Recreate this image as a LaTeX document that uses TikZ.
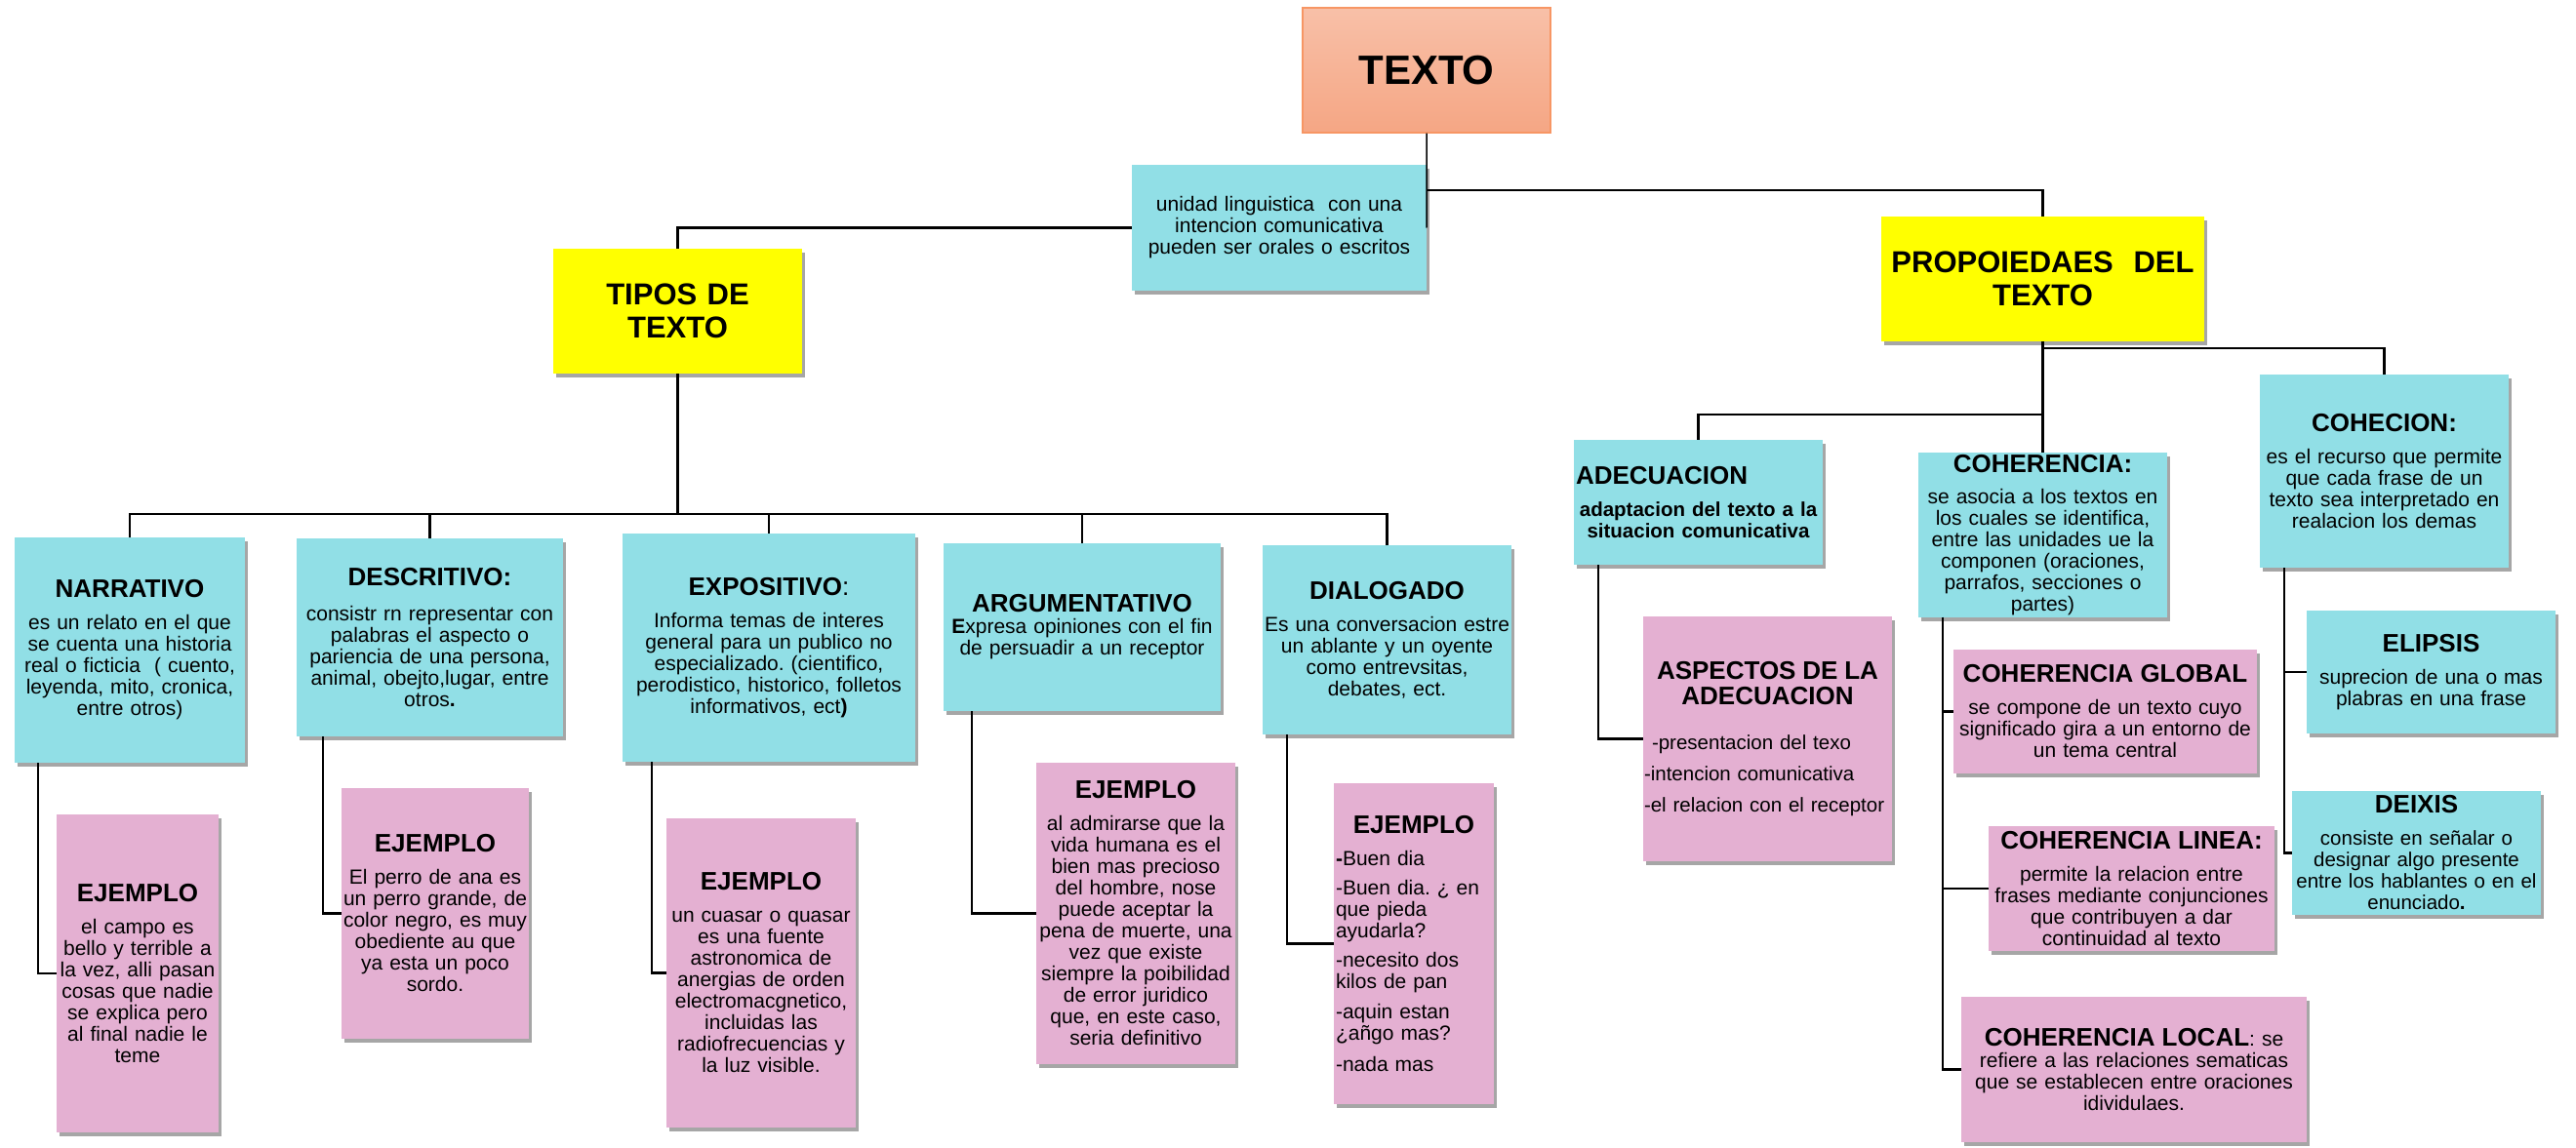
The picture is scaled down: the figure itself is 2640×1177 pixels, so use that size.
\documentclass[tikz,border=0pt]{standalone}
\usepackage{fontspec}
\setmainfont{Liberation Sans}
\usetikzlibrary{shadows}
\definecolor{cy}{RGB}{145,223,230}
\definecolor{pk}{RGB}{228,176,210}
\definecolor{yl}{RGB}{255,255,0}
\definecolor{ortop}{RGB}{248,192,168}
\definecolor{orbot}{RGB}{245,166,132}
\definecolor{orline}{RGB}{247,150,100}
\frenchspacing
\newcommand\hd[2][11pt]{{\fontsize{26}{28}\selectfont\bfseries #2\par}\vspace{#1}}
\begin{document}
\begin{tikzpicture}[x=1pt,y=-1pt,
  box/.style={inner xsep=2pt, inner ysep=2pt, align=center, font=\fontsize{21}{22}\selectfont},
  shd/.style={drop shadow={shadow xshift=3pt, shadow yshift=-4pt, fill=black, opacity=0.35}},
  cbox/.style={box, shd, fill=cy},
  pbox/.style={box, shd, fill=pk},
  ybox/.style={box, shd, fill=yl, font=\fontsize{31}{34}\selectfont\bfseries},
  lk/.style={draw=black, line width=2.2pt},
  lkthin/.style={draw=black, line width=1.5pt}]
\fill[white] (0,0) rectangle (2640,1177);
\useasboundingbox (0,0) rectangle (2640,1177);

% top level
\node[box, top color=ortop, bottom color=orbot, draw=orline, line width=1.5pt,
  minimum width=254pt, minimum height=128pt, text width=248pt,
  font=\fontsize{42}{46}\selectfont\bfseries] (texto) at (1462,72) {TEXTO};
\node[cbox, minimum width=302pt, minimum height=129pt, text width=296pt] (unidad) at (1311,233.5)
  {unidad linguistica\ \ con una\\intencion comunicativa\\pueden ser orales o escritos};
\node[ybox, minimum width=255pt, minimum height=128pt, text width=249pt] (tipos) at (694.5,319)
  {TIPOS DE\\TEXTO};
\node[ybox, minimum width=331pt, minimum height=128pt, text width=325pt] (prop) at (2093.5,286)
  {PROPOIEDAES\ \ DEL\\TEXTO};

% tipos de texto
\node[cbox, minimum width=236pt, minimum height=231pt, text width=230pt] (narr) at (133,666.5)
  {\hd{NARRATIVO}es un relato en el que\\se cuenta una historia\\real o ficticia\ \ ( cuento,\\leyenda, mito, cronica,\\entre otros)};
\node[cbox, minimum width=273pt, minimum height=203pt, text width=267pt] (desc) at (440.5,653.5)
  {\hd[14pt]{DESCRITIVO:}consistr rn representar con\\palabras el aspecto o\\pariencia de una persona,\\animal, obejto,lugar, entre\\otros\textbf{.}};
\node[cbox, minimum width=300pt, minimum height=234pt, text width=294pt] (expo) at (788,664)
  {\hd{EXPOSITIVO\textmd{:}}Informa temas de interes\\general para un publico no\\especializado. (cientifico,\\perodistico, historico, folletos\\informativos, ect\textbf{)}};
\node[cbox, minimum width=284pt, minimum height=172pt, text width=278pt] (arg) at (1109,643)
  {\hd[0pt]{ARGUMENTATIVO}\textbf{E}xpresa opiniones con el fin\\de persuadir a un receptor};
\node[cbox, minimum width=255pt, minimum height=194pt, text width=251pt] (dial) at (1421.5,656)
  {\hd{DIALOGADO}Es una conversacion estre\\un ablante y un oyente\\como entrevsitas,\\debates, ect.};

% ejemplos
\node[pbox, minimum width=166pt, minimum height=326pt, text width=162pt] (ej1) at (141,998)
  {\hd{EJEMPLO}el campo es\\bello y terrible a\\la vez, alli pasan\\cosas que nadie\\se explica pero\\al final nadie le\\teme};
\node[pbox, minimum width=192pt, minimum height=257pt, text width=188pt] (ej2) at (446,936.5)
  {\hd{EJEMPLO}El perro de ana es\\un perro grande, de\\color negro, es muy\\obediente au que\\ya esta un poco\\sordo.};
\node[pbox, minimum width=194pt, minimum height=317pt, text width=190pt] (ej3) at (780,997.5)
  {\hd{EJEMPLO}un cuasar o quasar\\es una fuente\\astronomica de\\anergias de orden\\electromacgnetico,\\incluidas las\\radiofrecuencias y\\la luz visible.};
\node[pbox, minimum width=204pt, minimum height=309pt, text width=200pt] (ej4) at (1164,936.5)
  {\hd{EJEMPLO}al admirarse que la\\vida humana es el\\bien mas precioso\\del hombre, nose\\puede aceptar la\\pena de muerte, una\\vez que existe\\siempre la poibilidad\\de error juridico\\que, en este caso,\\seria definitivo};
\node[pbox, align=left, minimum width=164pt, minimum height=329pt, text width=160pt] (ej5) at (1449,967.5)
  {{\centering\fontsize{26}{28}\selectfont\bfseries EJEMPLO\par}\vspace{11pt}%
   \textbf{-}Buen dia\par\vspace{8pt}%
   -Buen dia. ¿ en\\que pieda\\ayudarla?\par\vspace{8pt}%
   -necesito dos\\kilos de pan\par\vspace{9pt}%
   -aquin estan\\¿añgo mas?\par\vspace{10pt}%
   -nada mas};

% propiedades
\node[cbox, align=left, minimum width=255pt, minimum height=128pt, text width=251pt] (adec) at (1740.5,515)
  {{\fontsize{26}{28}\selectfont\bfseries ADECUACION\par}\vspace{11pt}%
   {\centering\fontsize{20.5}{22}\selectfont\bfseries adaptacion del texto a la\\situacion comunicativa\par}};
\node[pbox, align=left, inner xsep=1pt, minimum width=255pt, minimum height=251pt, text width=253pt,
  font=\fontsize{20.5}{22}\selectfont] (asp) at (1811.5,757.5)
  {{\centering\fontsize{26}{26}\selectfont\bfseries ASPECTOS DE LA\\ADECUACION\par}\vspace{24pt}%
   \hspace*{8pt}-presentacion del texo\par\vspace{10pt}%
   -intencion comunicativa\par\vspace{10pt}%
   -el relacion con el receptor};
\node[cbox, minimum width=255pt, minimum height=165pt, text width=251pt] (coh) at (2093.5,548.5)
  {\hd[10pt]{COHERENCIA:}se asocia a los textos en\\los cuales se identifica,\\entre las unidades ue la\\componen (oraciones,\\parrafos, secciones o\\partes)};
\node[pbox, minimum width=311pt, minimum height=127pt, text width=307pt] (cglob) at (2157.5,729.5)
  {\hd{COHERENCIA GLOBAL}se compone de un texto cuyo\\significado gira a un entorno de\\un tema central};
\node[pbox, minimum width=293pt, minimum height=128pt, text width=289pt] (clin) at (2184.5,911)
  {\hd{COHERENCIA LINEA:}permite la relacion entre\\frases mediante conjunciones\\que contribuyen a dar\\continuidad al texto};
\node[pbox, minimum width=354pt, minimum height=149pt, text width=350pt] (cloc) at (2187,1096.5)
  {{\fontsize{26}{28}\selectfont\bfseries COHERENCIA LOCAL}: se\\refiere a las relaciones sematicas\\que se establecen entre oraciones\\idividulaes.};
\node[cbox, minimum width=255pt, minimum height=198pt, text width=251pt] (cohe) at (2443.5,483)
  {\hd{COHECION:}es el recurso que permite\\que cada frase de un\\texto sea interpretado en\\realacion los demas};
\node[cbox, minimum width=255pt, minimum height=126pt, text width=251pt] (elip) at (2491.5,689)
  {\hd{ELIPSIS}suprecion de una o mas\\plabras en una frase};
\node[cbox, inner xsep=1pt, minimum width=255pt, minimum height=127pt, text width=253pt,
  font=\fontsize{20.5}{22}\selectfont] (deix) at (2476.5,874.5)
  {\hd{DEIXIS}consiste en señalar o\\designar algo presente\\entre los hablantes o en el\\enunciado\textbf{.}};

% connectors
\coordinate (bus) at (694.5,527);
\draw[lkthin] (texto.south) -- (unidad.east);
\draw[lk] (texto.south) ++(0,58) -| (prop.north);
\draw[lk] (unidad.west) -| (tipos.north);
\draw[lk] (tipos.south) -- (bus);
\draw[lk] (narr.north) |- (bus) -| (dial.north);
\draw[lk] (desc.north) -- (desc.north |- bus);
\draw[lk] (expo.north) -- (expo.north |- bus);
\draw[lk] (arg.north) -- (arg.north |- bus);

\draw[lk] ([xshift=24pt]narr.south west) |- (ej1.west);
\draw[lk] ([xshift=27pt]desc.south west) |- (ej2.west);
\draw[lk] ([xshift=30pt]expo.south west) |- (ej3.west);
\draw[lk] ([xshift=29pt]arg.south west) |- (ej4.west);
\draw[lk] ([xshift=25pt]dial.south west) |- (ej5.west);

\draw[lk] (prop.south) -- (coh.north);
\draw[lk] (prop.south) ++(0,7) -| (cohe.north);
\draw[lk] (prop.south) ++(0,75) -| (adec.north);

\draw[lk] ([xshift=25pt]adec.south west) |- (asp.west);
\draw[lk] ([xshift=25pt]coh.south west) |- (cloc.west);
\draw[lk] ([xshift=25pt]coh.south west) |- (cglob.west);
\draw[lk] ([xshift=25pt]coh.south west) |- (clin.west);
\draw[lk] ([xshift=25pt]cohe.south west) |- (deix.west);
\draw[lk] ([xshift=25pt]cohe.south west) |- (elip.west);
\end{tikzpicture}
\end{document}
